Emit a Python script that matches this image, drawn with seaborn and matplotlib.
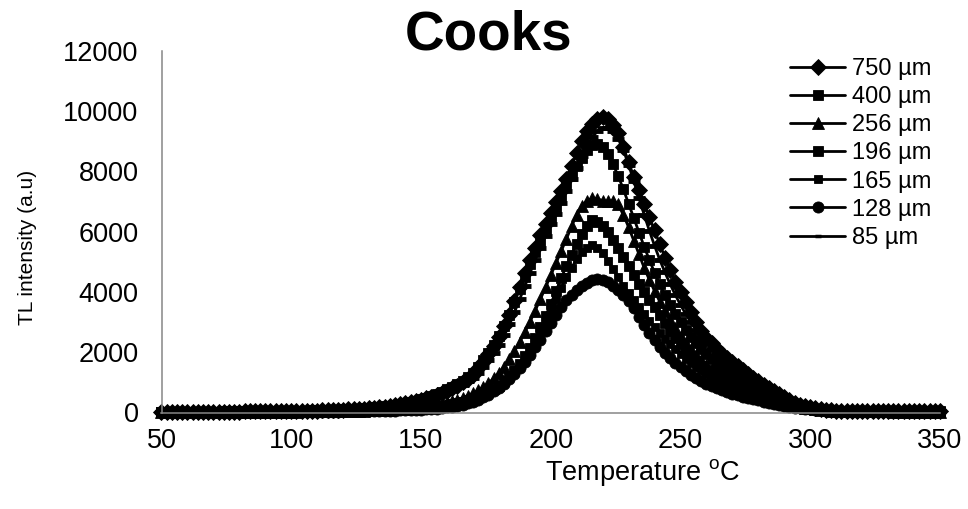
import numpy as np
import pandas as pd
import seaborn as sns
import matplotlib
matplotlib.use("Agg")
import matplotlib.pyplot as plt

# Heating temperature grid (degrees C)
temperature = np.arange(50, 351, 2)

# TL glow curves for each grain size fraction (a.u.)
tl_750 = [20, 22, 21, 23, 24, 24, 25, 26, 27, 27, 28, 29, 30, 31, 32, 33, 35, 36, 37, 39,
          40, 42, 44, 46, 48, 50, 53, 56, 59, 62, 66, 70, 75, 80, 86, 93, 100, 108, 117, 127,
          140, 155, 172, 192, 215, 240, 268, 300, 336, 376,
          420, 470, 525, 585, 650, 720, 800, 895, 1000, 1120,
          1260, 1460, 1690, 1940, 2220, 2500, 2860, 3250, 3700, 4160,
          4620, 5060, 5470, 5880, 6260, 6620, 6970, 7350, 7760, 8180,
          8600, 9000, 9330, 9580, 9740, 9800, 9720, 9520, 9260, 8800,
          8300, 7820, 7380, 6930, 6470, 6040, 5590, 5140, 4730, 4340,
          3990, 3650, 3320, 3000, 2700, 2480, 2290, 2110, 1950, 1800,
          1670, 1540, 1410, 1280, 1150, 1030, 910, 800, 700, 600,
          500, 410, 330, 265, 215, 175, 140, 112, 90, 75,
          65, 60, 57, 55, 54, 53, 52, 51, 50, 50,
          49, 49, 48, 48, 47, 47, 46, 46, 45, 45,
          45]

tl_400 = [24, 25, 24, 26, 27, 28, 28, 29, 30, 31, 32, 33, 34, 35, 36, 38, 39, 40, 42, 44,
          45, 47, 49, 51, 54, 56, 59, 62, 66, 70, 74, 79, 84, 90, 97, 104, 112, 121, 130, 140,
          150, 166, 184, 205, 228, 254, 283, 316, 353, 395,
          442, 494, 552, 616, 686, 763, 848, 943, 1050, 1175,
          1320, 1510, 1730, 1970, 2240, 2530, 2870, 3250, 3660, 4080,
          4500, 4910, 5310, 5700, 6070, 6430, 6790, 7150, 7500, 7840,
          8160, 8450, 8700, 8860, 8900, 8800, 8560, 8230, 7840, 7400,
          6930, 6450, 5970, 5500, 5060, 4640, 4250, 3890, 3560, 3260,
          2990, 2740, 2510, 2300, 2110, 1930, 1770, 1620, 1480, 1350,
          1230, 1120, 1020, 925, 835, 750, 670, 595, 525, 458,
          395, 335, 280, 232, 190, 155, 125, 100, 80, 66,
          56, 50, 46, 44, 42, 41, 40, 40, 39, 39,
          38, 38, 38, 37, 37, 37, 36, 36, 36, 35,
          35]

tl_256 = [12, 13, 13, 14, 14, 15, 15, 16, 16, 17, 17, 18, 18, 19, 20, 20, 21, 22, 23, 24,
          25, 26, 27, 28, 29, 31, 32, 34, 36, 38, 40, 42, 45, 48, 51, 54, 57, 60, 63, 66,
          69, 74, 80, 87, 95, 105, 116, 129, 144, 161,
          181, 204, 230, 260, 294, 333, 378, 430, 490, 560,
          640, 735, 845, 975, 1130, 1310, 1520, 1760, 2030, 2330,
          2660, 3010, 3380, 3760, 4150, 4550, 4950, 5350, 5750, 6170,
          6560, 6850, 7030, 7100, 7080, 7030, 7010, 7030, 6900, 6550,
          6150, 5700, 5250, 4800, 4400, 4030, 3680, 3360, 3060, 2790,
          2540, 2310, 2100, 1910, 1740, 1580, 1440, 1310, 1190, 1080,
          980, 890, 805, 725, 650, 580, 515, 455, 400, 350,
          305, 262, 225, 190, 160, 133, 110, 90, 75, 62,
          53, 47, 43, 40, 38, 37, 36, 35, 35, 34,
          34, 33, 33, 33, 32, 32, 32, 31, 31, 31,
          30]

tl_196 = [10, 11, 11, 12, 12, 13, 13, 14, 14, 15, 15, 16, 16, 17, 17, 18, 19, 19, 20, 21,
          22, 23, 24, 25, 26, 28, 29, 31, 33, 35, 37, 39, 41, 44, 46, 49, 52, 55, 58, 60,
          62, 67, 73, 79, 86, 94, 103, 113, 124, 137,
          151, 167, 185, 205, 228, 254, 284, 318, 357, 402,
          455, 518, 592, 680, 770, 890, 1035, 1200, 1390, 1610,
          1860, 2150, 2470, 2820, 3200, 3600, 4020, 4450, 4860, 5240,
          5600, 5930, 6200, 6370, 6330, 6190, 5980, 5720, 5440, 5150,
          4850, 4550, 4260, 3990, 3740, 3490, 3220, 2960, 2710, 2480,
          2260, 2060, 1870, 1700, 1540, 1400, 1270, 1150, 1040, 940,
          850, 765, 690, 620, 555, 495, 440, 390, 345, 305,
          268, 235, 205, 178, 154, 133, 114, 97, 83, 71,
          61, 53, 47, 43, 40, 38, 37, 36, 35, 35,
          34, 34, 33, 33, 33, 32, 32, 32, 31, 31,
          31]

tl_165 = [8, 9, 9, 10, 10, 11, 11, 12, 12, 13, 13, 14, 14, 15, 15, 16, 16, 17, 18, 18,
          19, 20, 21, 22, 23, 24, 25, 27, 28, 30, 32, 34, 36, 38, 41, 43, 46, 49, 52, 55,
          58, 62, 67, 72, 78, 85, 93, 102, 112, 124,
          137, 152, 169, 188, 210, 235, 264, 297, 335, 376,
          420, 490, 570, 665, 775, 900, 1045, 1210, 1395, 1600,
          1830, 2090, 2380, 2700, 3040, 3400, 3770, 4130, 4480, 4800,
          5080, 5310, 5470, 5540, 5470, 5290, 5040, 4760, 4480, 4210,
          3970, 3730, 3500, 3270, 3050, 2840, 2640, 2450, 2270, 2100,
          1940, 1790, 1650, 1520, 1400, 1290, 1185, 1090, 1000, 915,
          835, 760, 690, 625, 565, 510, 455, 405, 360, 318,
          280, 245, 213, 185, 160, 138, 118, 100, 85, 72,
          60, 50, 43, 38, 34, 32, 30, 29, 28, 28,
          27, 27, 26, 26, 26, 25, 25, 25, 24, 24,
          24]

tl_128 = [5, 6, 6, 6, 7, 7, 7, 8, 8, 8, 9, 9, 10, 10, 11, 11, 12, 12, 13, 14,
          14, 15, 16, 17, 18, 19, 20, 21, 22, 24, 25, 27, 28, 30, 32, 34, 36, 38, 40, 42,
          45, 48, 51, 55, 59, 63, 68, 74, 80, 87,
          95, 104, 115, 128, 147, 170, 195, 225, 260, 305,
          360, 425, 500, 590, 700, 820, 960, 1110, 1280, 1470,
          1680, 1910, 2160, 2420, 2700, 2980, 3250, 3500, 3720, 3910,
          4070, 4200, 4310, 4390, 4430, 4400, 4320, 4200, 4060, 3900,
          3700, 3460, 3180, 2900, 2640, 2400, 2180, 1990, 1810, 1650,
          1510, 1380, 1260, 1150, 1050, 960, 880, 810, 740, 680,
          620, 570, 520, 480, 440, 400, 360, 320, 290, 250,
          220, 190, 160, 140, 120, 100, 85, 70, 60, 50,
          44, 38, 33, 29, 26, 24, 22, 21, 20, 19,
          18, 18, 17, 17, 16, 16, 15, 15, 15, 14,
          14]

tl_85 = [17, 19, 18, 20, 21, 21, 22, 23, 24, 24, 25, 26, 27, 28, 29, 30, 31, 32, 34, 35,
         36, 38, 40, 42, 44, 46, 48, 51, 54, 57, 61, 65, 69, 74, 80, 86, 93, 100, 109, 119,
         130, 144, 160, 178, 199, 222, 248, 277, 310, 347,
         388, 434, 485, 541, 602, 670, 745, 830, 925, 1035,
         1160, 1320, 1510, 1730, 1980, 2250, 2560, 2920, 3320, 3750,
         4190, 4630, 5060, 5470, 5870, 6240, 6600, 6960, 7340, 7730,
         8120, 8500, 8850, 9130, 9330, 9440, 9450, 9330, 9080, 8700,
         8220, 7680, 7120, 6560, 6030, 5530, 5070, 4650, 4260, 3900,
         3570, 3270, 2990, 2740, 2510, 2300, 2110, 1940, 1780, 1640,
         1500, 1380, 1260, 1150, 1040, 940, 840, 745, 655, 570,
         490, 410, 335, 270, 215, 170, 135, 107, 86, 70,
         60, 54, 50, 48, 47, 46, 45, 45, 44, 44,
         43, 43, 43, 42, 42, 42, 41, 41, 41, 40,
         40]

series_labels = ["750 µm", "400 µm", "256 µm", "196 µm", "165 µm", "128 µm", "85 µm"]
series_values = [tl_750, tl_400, tl_256, tl_196, tl_165, tl_128, tl_85]

# marker style per grain size: (marker, size in pt, edge width)
marker_styles = [("D", 8.0, 0.6), ("s", 7.5, 0.6), ("^", 9.0, 0.6), ("s", 6.5, 0.6),
                 ("s", 6.0, 0.6), ("o", 8.0, 0.6), ("_", 9.0, 3.5)]

sns.set_theme(style="white")
plt.rcParams["font.family"] = ["Liberation Sans", "DejaVu Sans"]
plt.rcParams["text.color"] = "black"
plt.rcParams["mathtext.fontset"] = "custom"
plt.rcParams["mathtext.rm"] = "Liberation Sans"
plt.rcParams["mathtext.default"] = "regular"

W, H = 968, 509
fig = plt.figure(figsize=(W / 100, H / 100), dpi=100)
ax = fig.add_axes([161.5 / W, 1 - 412.5 / H, (940 - 161.5) / W, (412.5 - 50.7) / H])

frames = []
for label, vals in zip(series_labels, series_values):
    frames.append(pd.DataFrame({"Temperature": temperature, "TL": vals, "size": label}))
data = pd.concat(frames, ignore_index=True)

for label, (mk, ms, mew) in zip(series_labels, marker_styles):
    sub = data[data["size"] == label]
    sns.lineplot(data=sub, x="Temperature", y="TL", ax=ax, color="black",
                 linewidth=2.0, marker=mk, markersize=ms, markeredgewidth=mew,
                 markeredgecolor="black", label=label, clip_on=False,
                 estimator=None, sort=False)

ax.set_xlim(50, 350)
ax.set_ylim(0, 12000)
ax.set_xticks(range(50, 351, 50))
ax.set_yticks(range(0, 12001, 2000))
ax.set_xlabel("")
ax.set_ylabel("")

for side in ["top", "right"]:
    ax.spines[side].set_visible(False)
for side in ["left", "bottom"]:
    ax.spines[side].set_color("#868686")
    ax.spines[side].set_linewidth(1.1)

ax.tick_params(axis="both", which="major", direction="out", length=6.5, width=1.1,
               color="#868686", labelsize=19.5, labelcolor="black")
ax.tick_params(axis="y", pad=10)
ax.tick_params(axis="x", pad=5)

# legend handles: marker drawn once at the middle of each short line
leg = ax.legend(loc="upper left", bbox_to_anchor=(790 / W, 1 - 58 / H),
                bbox_transform=fig.transFigure, frameon=False, fontsize=17,
                handlelength=2.35, handletextpad=0.26, labelspacing=0.26,
                borderpad=0, borderaxespad=0, numpoints=1)
# the dash symbol for the finest fraction is shown small in the key
dash_handle = leg.legend_handles[-1]
dash_handle.set_markersize(5)
dash_handle.set_markeredgewidth(2.5)

fig.text(489 / W, 1 - 36 / H, "Cooks", ha="center", va="center",
         fontsize=39.5, fontweight="bold", color="black")
fig.text(28 / W, 1 - 247 / H, "TL intensity (a.u)", rotation=90, ha="center",
         va="center", fontsize=15, color="black")
fig.text(642 / W, 1 - 472 / H, "Temperature $^{o}$C", ha="center", va="center",
         fontsize=19.5, color="black")

fig.savefig("out.png", dpi=100)
